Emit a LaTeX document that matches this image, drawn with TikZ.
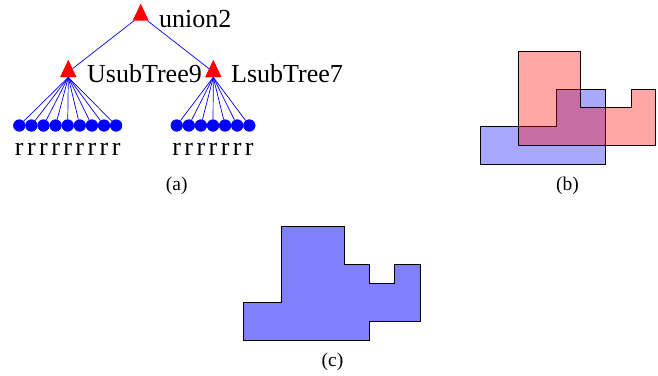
\documentclass[tikz,border=0pt]{standalone}
\usepackage{fontspec}
\setmainfont{Liberation Serif}
\usetikzlibrary{shapes.geometric}
\begin{document}
\begin{tikzpicture}[x=1pt,y=-1pt,
  tri/.style={isosceles triangle, shape border rotate=90, isosceles triangle stretches,
    fill=red, inner sep=0pt, minimum width=16pt, minimum height=17pt},
  leaf/.style={circle, fill=blue, inner sep=0pt, minimum size=12pt},
  treeline/.style={draw=blue, line width=0.7pt},
  lbl/.style={inner sep=0pt, font=\fontsize{26}{30}\selectfont},
  rlbl/.style={inner sep=0pt, anchor=base, font=\fontsize{26}{30}\selectfont},
  capt/.style={inner sep=0pt, anchor=base, font=\fontsize{19.5}{22}\selectfont},
  poly/.style={draw=black, line width=0.7pt},
  blueA/.style={poly, fill=blue, fill opacity=0.34},
  redA/.style={poly, fill=red, fill opacity=0.35},
  unionpoly/.style={poly, fill=blue!50}]
\useasboundingbox (0,0) rectangle (658,375);

% ---- (a) tree ----
\node[tri] (root) at (140.7,15.5) {};
\node[tri] (U) at (68.3,72) {};
\node[tri] (L) at (213.3,72) {};
\node[lbl, anchor=base west] (rootlbl) at (159,27) {union2};
\node[lbl, anchor=base west] (Ulbl) at (87,82.5) {UsubTree9};
\node[lbl, anchor=base west] (Llbl) at (231,82.5) {LsubTree7};
\draw[treeline] (root) -- (U);
\draw[treeline] (root) -- (L);
\foreach \i in {0,...,8} {
  \node[leaf] (ul\i) at ({19.3+12.1*\i},125.5) {};
  \draw[treeline] (U.lower side) -- (ul\i);
  \node[rlbl] (ur\i) at ({19.3+12.1*\i},155) {r};
}
\foreach \i in {0,...,6} {
  \node[leaf] (ll\i) at ({176.7+12.1*\i},125.5) {};
  \draw[treeline] (L.lower side) -- (ll\i);
  \node[rlbl] (lr\i) at ({176.7+12.1*\i},155) {r};
}
\foreach \i in {0,...,8} { \node[leaf] at (ul\i) {}; }
\foreach \i in {0,...,6} { \node[leaf] at (ll\i) {}; }
\node[tri] at (U) {};
\node[tri] at (L) {};
\node[capt] (capa) at (176.7,190.5) {(a)};

% ---- (b) overlapping polygons ----
\path[blueA] (480,126.7) -- (480,164.3) -- (605.7,164.3) -- (605.7,89) -- (556,89) -- (556,126.7) -- cycle;
\path[redA] (518,51) -- (580.7,51) -- (580.7,107.7) -- (631.7,107.7) -- (631.7,89) -- (655.7,89) -- (655.7,145) -- (518,145) -- cycle;
\node[capt] (capb) at (567.5,190.7) {(b)};

% ---- (c) union ----
\path[unionpoly] (243.3,302.3) -- (281,302.3) -- (281,226) -- (344.3,226) -- (344.3,264.3) -- (369.3,264.3) -- (369.3,283.3) -- (394.3,283.3) -- (394.3,264.3) -- (420,264.3) -- (420,321) -- (369.3,321) -- (369.3,340) -- (243.3,340) -- cycle;
\node[capt] (capc) at (332.5,366) {(c)};
\end{tikzpicture}
\end{document}
